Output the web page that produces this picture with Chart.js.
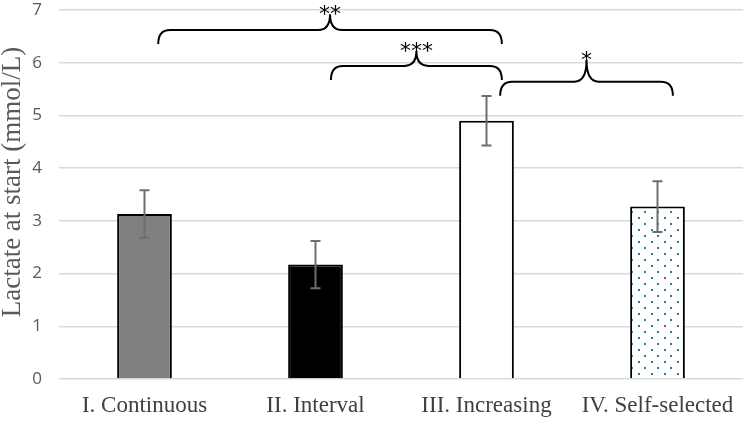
<!DOCTYPE html>
<html>
<head>
<meta charset="utf-8">
<script src="https://cdn.jsdelivr.net/npm/chart.js@4/dist/chart.umd.min.js"></script>
<style>
  html, body { margin: 0; padding: 0; background: #fff; }
  #wrap { width: 744px; height: 421px; }
</style>
</head>
<body>
<div id="wrap"><canvas id="chart" width="744" height="421"></canvas></div>
<script>
// data
const categories = ['I. Continuous', 'II. Interval', 'III. Increasing', 'IV. Self-selected'];
const lactate = [3.13, 2.17, 4.9, 3.27];
const errors = [0.45, 0.45, 0.47, 0.48];
const yTicks = [0, 1, 2, 3, 4, 5, 6, 7];
const yTitle = 'Lactate at start (mmol/L)';
// significance brackets: from/to category index, flat level, tip level, label
const brackets = [
    { from: 0.08, to: 2.09, level: 6.62, tip: 6.92, label: '**' },
    { from: 1.09, to: 2.09, level: 5.94, tip: 6.22, label: '***' },
    { from: 2.08, to: 3.09, level: 5.64, tip: 6.05, label: '*' }
];

function dotPattern() {
    const c = document.createElement('canvas');
    c.width = 13; c.height = 12;
    const g = c.getContext('2d');
    g.fillStyle = '#ffffff';
    g.fillRect(0, 0, 13, 12);
    g.fillStyle = '#2b7a96';
    g.fillRect(1, 1, 2, 2);
    g.fillRect(7, 7, 2, 2);
    return g.createPattern(c, 'repeat');
}

const fills = ['#808080', '#000000', '#ffffff', dotPattern()];

const errorBars = {
    id: 'errorBars',
    afterDatasetsDraw(chart) {
        const { ctx, scales: { x, y } } = chart;
        ctx.save();
        ctx.strokeStyle = '#6e6e6e';
        ctx.lineWidth = 2;
        lactate.forEach((v, i) => {
            const cx = x.getPixelForValue(i);
            const top = y.getPixelForValue(v + errors[i]);
            const bot = y.getPixelForValue(v - errors[i]);
            ctx.beginPath();
            ctx.moveTo(cx, top); ctx.lineTo(cx, bot);
            ctx.moveTo(cx - 5, top); ctx.lineTo(cx + 5, top);
            ctx.moveTo(cx - 5, bot); ctx.lineTo(cx + 5, bot);
            ctx.stroke();
        });
        ctx.restore();
    }
};

const braces = {
    id: 'braces',
    afterDraw(chart) {
        const { ctx, scales: { x, y } } = chart;
        const step = x.getPixelForValue(1) - x.getPixelForValue(0);
        ctx.save();
        ctx.strokeStyle = '#000';
        ctx.lineWidth = 2;
        brackets.forEach(b => {
            const x0 = x.getPixelForValue(0) + b.from * step;
            const x1 = x.getPixelForValue(0) + b.to * step;
            const xm = (x0 + x1) / 2;
            const yl = y.getPixelForValue(b.level);
            const yt = y.getPixelForValue(b.tip);
            const r = 12;
            ctx.beginPath();
            ctx.moveTo(x0, yl + 14);
            ctx.quadraticCurveTo(x0, yl, x0 + r, yl);
            ctx.lineTo(xm - 12, yl);
            ctx.quadraticCurveTo(xm, yl, xm, yt);
            ctx.quadraticCurveTo(xm, yl, xm + 12, yl);
            ctx.lineTo(x1 - r, yl);
            ctx.quadraticCurveTo(x1, yl, x1, yl + 14);
            ctx.stroke();
            ctx.fillStyle = '#000';
            ctx.font = '22px "DejaVu Sans"';
            ctx.textAlign = 'center';
            ctx.textBaseline = 'alphabetic';
            ctx.fillText(b.label, xm, yt + 7);
        });
        ctx.restore();
    }
};

// axis title drawn by hand so it can sit a little above the plot centre, as in the figure
const axisTitle = {
    id: 'axisTitle',
    afterDraw(chart) {
        const { ctx } = chart;
        ctx.save();
        ctx.translate(13, 182);
        ctx.rotate(-Math.PI / 2);
        ctx.fillStyle = '#595959';
        ctx.font = '27px "Liberation Serif"';
        ctx.textAlign = 'center';
        ctx.textBaseline = 'middle';
        ctx.fillText(yTitle, 0, 0);
        ctx.restore();
    }
};

new Chart(document.getElementById('chart'), {
    type: 'bar',
    data: {
        labels: categories,
        datasets: [{
            data: lactate,
            backgroundColor: fills,
            borderColor: '#000',
            borderWidth: 2,
            categoryPercentage: 1,
            barPercentage: 0.32
        }]
    },
    options: {
        responsive: false,
        animation: false,
        layout: { padding: { top: 10, right: 1, left: 0, bottom: 0 } },
        plugins: { legend: { display: false }, tooltip: { enabled: false } },
        scales: {
            x: {
                grid: { display: false },
                border: { display: false },
                ticks: { color: '#404040', font: { family: 'Liberation Serif', size: 23 }, padding: 5 },
                afterFit(s) { s.height = 42; }
            },
            y: {
                min: 0, max: 7,
                afterBuildTicks(s) { s.ticks = yTicks.map(v => ({ value: v })); },
                grid: { color: '#d9d9d9', lineWidth: 1.5, drawTicks: false },
                border: { display: false },
                ticks: { color: '#595959', font: { family: 'Open Sans', size: 17 }, padding: 17 },
                afterFit(s) { s.width = 59; s.paddingTop = 0; s.paddingBottom = 0; }
            }
        }
    },
    plugins: [errorBars, braces, axisTitle]
});
</script>
</body>
</html>
